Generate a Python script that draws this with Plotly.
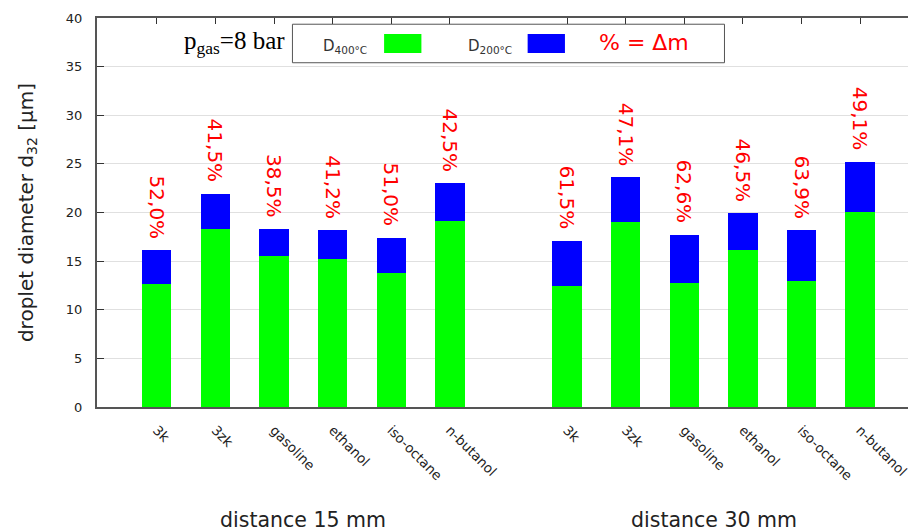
import plotly.graph_objects as go

# ---- data ----
fuels = ["3k", "3zk", "gasoline", "ethanol", "iso-octane", "n-butanol"]
groups = ["distance 15 mm", "distance 30 mm"]
d400_15 = [12.6, 18.3, 15.5, 15.2, 13.8, 19.1]
d200_15 = [16.1, 21.9, 18.3, 18.2, 17.4, 23.0]
d400_30 = [12.4, 19.0, 12.7, 16.1, 13.0, 20.1]
d200_30 = [17.1, 23.6, 17.7, 19.9, 18.2, 25.2]
dm_15 = ["52,0%", "41,5%", "38,5%", "41,2%", "51,0%", "42,5%"]
dm_30 = ["61,5%", "47,1%", "62,6%", "46,5%", "63,9%", "49,1%"]
y_ticks = [0, 5, 10, 15, 20, 25, 30, 35, 40]

# positions: group 1 at 0..5, gap of one slot, group 2 at 7..12
n = len(fuels)
x15 = list(range(n))
x30 = [n + 1 + i for i in range(n)]
xs = x15 + x30
d400 = d400_15 + d400_30
d200 = d200_15 + d200_30
diff = [b - a for a, b in zip(d400, d200)]
labels = dm_15 + dm_30
ticktext = fuels + fuels

fig = go.Figure()
fig.add_trace(go.Bar(x=xs, y=d400, width=0.5, marker=dict(color="#00ff00", line=dict(width=0)),
                     name="D400", showlegend=False))
fig.add_trace(go.Bar(x=xs, y=diff, width=0.5, marker=dict(color="#0000ff", line=dict(width=0)),
                     name="D200", showlegend=False))

ann = []
for x, top, lab in zip(xs, d200, labels):
    ann.append(dict(x=x, y=top, xref="x", yref="y", text=lab, showarrow=False,
                    textangle=90, yanchor="bottom", xanchor="center", yshift=9,
                    font=dict(family="DejaVu Sans", size=20, color="#ff0000")))

# group titles
ann.append(dict(x=(x15[0] + x15[-1]) / 2, y=-0.29, xref="x", yref="paper", text=groups[0],
                showarrow=False, yanchor="middle",
                font=dict(family="DejaVu Sans", size=20.5, color="#222")))
ann.append(dict(x=(x30[0] + x30[-1]) / 2, y=-0.29, xref="x", yref="paper", text=groups[1],
                showarrow=False, yanchor="middle",
                font=dict(family="DejaVu Sans", size=20.5, color="#222")))

# pressure label
ann.append(dict(x=0.2337, y=0.936, xref="paper", yref="paper", xanchor="right", yanchor="middle",
                text="p<sub>gas</sub>=8 bar", showarrow=False,
                font=dict(family="Liberation Serif", size=25, color="#000")))

# legend texts
ann.append(dict(x=0.306, y=0.928, xref="paper", yref="paper", xanchor="center", yanchor="middle",
                text="D<sub>400°C</sub>", showarrow=False,
                font=dict(family="DejaVu Sans", size=15, color="#333")))
ann.append(dict(x=0.484, y=0.928, xref="paper", yref="paper", xanchor="center", yanchor="middle",
                text="D<sub>200°C</sub>", showarrow=False,
                font=dict(family="DejaVu Sans", size=15, color="#333")))
ann.append(dict(x=0.675, y=0.936, xref="paper", yref="paper", xanchor="center", yanchor="middle",
                text="% = Δm", showarrow=False,
                font=dict(family="DejaVu Sans", size=22, color="#ff0000")))

shapes = [
    dict(type="rect", xref="paper", yref="paper", x0=0.241, x1=0.7737, y0=0.885, y1=0.984,
         line=dict(color="#555", width=1), fillcolor="white", layer="above"),
    dict(type="rect", xref="paper", yref="paper", x0=0.354, x1=0.400, y0=0.910, y1=0.959,
         line=dict(width=0), fillcolor="#00ff00", layer="above"),
    dict(type="rect", xref="paper", yref="paper", x0=0.531, x1=0.577, y0=0.910, y1=0.959,
         line=dict(width=0), fillcolor="#0000ff", layer="above"),
]

fig.update_layout(
    width=910, height=531,
    margin=dict(l=97, r=0, t=18, b=124),
    paper_bgcolor="white", plot_bgcolor="white",
    barmode="stack", bargap=0,
    annotations=ann, shapes=shapes,
    font=dict(family="DejaVu Sans", color="#222"),
    xaxis=dict(range=[-1.021, 12.817], tickmode="array", tickvals=xs, ticktext=ticktext,
               tickangle=45, ticks="inside", ticklen=6, tickcolor="#333",
               showline=True, linecolor="#555", linewidth=2, mirror="ticks",
               showgrid=False, zeroline=False, layer="below traces",
               ticklabelstandoff=8, ticklabeloverflow="allow",
               tickfont=dict(size=13.5, color="#222")),
    yaxis=dict(range=[0, 40], tickvals=y_ticks, ticks="inside", ticklen=7, tickcolor="#333",
               showline=True, linecolor="#555", linewidth=2,
               showgrid=True, gridcolor="#e0e0e0", gridwidth=1, zeroline=False,
               layer="below traces", ticklabelstandoff=10,
               tickfont=dict(size=13, color="#222"),
               title=dict(text="droplet diameter d<sub>32</sub> [µm]", standoff=27,
                          font=dict(size=20, color="#222"))),
)

fig.write_html("out.html")
